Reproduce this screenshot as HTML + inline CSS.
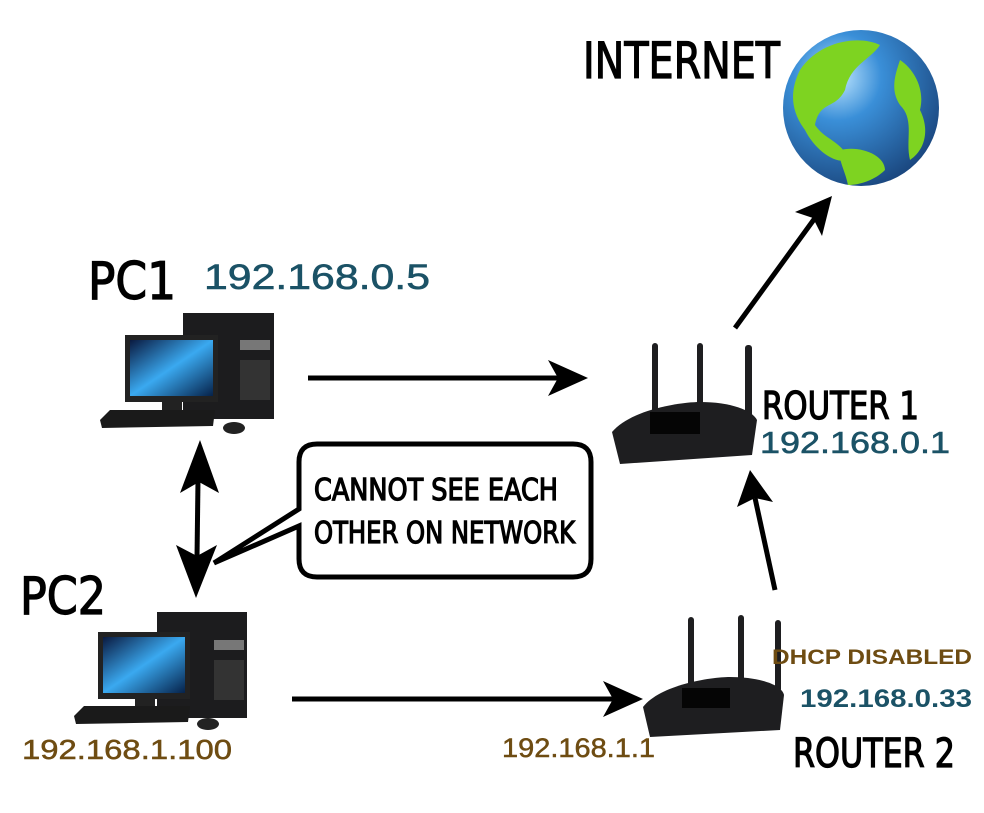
<!DOCTYPE html>
<html><head><meta charset="utf-8"><style>
html,body{margin:0;padding:0;background:#fff}
svg{display:block}
.h{font-family:"DejaVu Sans Condensed","Liberation Sans Narrow","Liberation Sans",sans-serif;font-weight:normal;stroke:#000;stroke-width:1.2}
.ip{font-family:"Liberation Sans",sans-serif}
</style></head><body>
<svg width="984" height="813" viewBox="0 0 984 813" xmlns="http://www.w3.org/2000/svg">
<defs>
<radialGradient id="gl" cx="0.35" cy="0.3" r="0.8">
<stop offset="0" stop-color="#bfe6ff"/><stop offset="0.35" stop-color="#3a8fd8"/><stop offset="1" stop-color="#173f75"/></radialGradient>
<linearGradient id="scr" x1="0" y1="0" x2="1" y2="1"><stop offset="0" stop-color="#0a1a40"/><stop offset="0.5" stop-color="#3aa9f0"/><stop offset="1" stop-color="#06224a"/></linearGradient>
</defs>

<!-- Globe -->
<circle cx="861" cy="108" r="78" fill="url(#gl)"/>
<path d="M800 70 C820 40 860 35 880 45 C870 60 850 65 845 90 C835 110 820 100 815 125 C825 140 840 140 850 160 C835 165 815 150 805 130 C790 110 790 90 800 70Z" fill="#7ed321"/>
<path d="M900 60 C915 70 925 90 920 110 C930 130 925 150 910 160 C905 140 915 120 900 105 C890 90 895 75 900 60Z" fill="#7ed321"/>
<path d="M840 150 C860 145 885 155 885 170 C875 180 860 185 848 185 C845 170 838 160 840 150Z" fill="#7ed321"/>

<text x="583" y="78" class="h" font-size="50" textLength="197" lengthAdjust="spacingAndGlyphs">INTERNET</text>

<!-- PC1 -->
<g>
<rect x="183" y="313" width="91" height="106" fill="#1c1c1e"/>
<rect x="240" y="340" width="30" height="10" fill="#777"/>
<rect x="240" y="360" width="30" height="40" fill="#333"/>
<rect x="125" y="335" width="93" height="67" fill="#222"/>
<rect x="130" y="340" width="83" height="56" fill="url(#scr)"/>
<rect x="162" y="402" width="20" height="10" fill="#222"/>
<polygon points="100,420 110,410 215,410 213,426 102,428" fill="#1a1a1a"/>
<ellipse cx="234" cy="428" rx="11" ry="6" fill="#222"/>
</g>
<!-- PC2 -->
<g>
<rect x="157" y="612" width="90" height="106" fill="#1c1c1e"/>
<rect x="214" y="640" width="30" height="10" fill="#777"/>
<rect x="214" y="660" width="30" height="40" fill="#333"/>
<rect x="98" y="632" width="92" height="67" fill="#222"/>
<rect x="103" y="637" width="82" height="56" fill="url(#scr)"/>
<rect x="135" y="699" width="20" height="10" fill="#222"/>
<polygon points="74,716 84,706 190,706 188,722 76,724" fill="#1a1a1a"/>
<ellipse cx="208" cy="724" rx="11" ry="6" fill="#222"/>
</g>

<!-- Router1 -->
<g fill="#1e1e20">
<rect x="652" y="343" width="6" height="75" rx="3"/>
<rect x="697" y="343" width="6" height="70" rx="3"/>
<rect x="745" y="345" width="7" height="75" rx="3"/>
<path d="M612 432 C630 410 680 402 700 402 C730 402 752 410 757 420 L752 455 L620 464 Z"/>
<rect x="650" y="412" width="50" height="22" fill="#050505"/>
</g>
<!-- Router2 -->
<g fill="#1e1e20">
<rect x="688" y="617" width="6" height="75" rx="3"/>
<rect x="738" y="615" width="6" height="70" rx="3"/>
<rect x="775" y="620" width="6" height="72" rx="3"/>
<path d="M643 707 C660 685 710 677 730 677 C760 677 782 685 784 695 L780 730 L650 737 Z"/>
<rect x="682" y="688" width="48" height="20" fill="#050505"/>
</g>

<!-- arrows -->
<g stroke="#000" stroke-width="5" fill="#000">
<line x1="308" y1="378" x2="560" y2="378"/>
<polygon points="588,378 548,360 558,378 548,396" stroke="none"/>
<line x1="292" y1="699" x2="615" y2="699"/>
<polygon points="643,699 603,681 613,699 603,717" stroke="none"/>
<line x1="735" y1="328" x2="815" y2="218"/>
<polygon points="832,196 795,212 813,218 822,236" stroke="none"/>
<line x1="775" y1="590" x2="755" y2="498"/>
<polygon points="750,470 737,507 755,498 773,502" stroke="none"/>
<line x1="198" y1="480" x2="197" y2="558"/>
<polygon points="200,440 180,493 199,482 219,493" stroke="none"/>
<polygon points="196,598 176,545 197,556 217,545" stroke="none"/>
</g>

<!-- bubble -->
<path d="M317 444 H573 Q591 444 591 462 V559 Q591 577 573 577 H317 Q299 577 299 559 V526 L214 563 L299 509 V462 Q299 444 317 444 Z" fill="#fff" stroke="#000" stroke-width="5" stroke-linejoin="miter"/>
<text x="314" y="500" class="h" font-size="30" textLength="244" lengthAdjust="spacingAndGlyphs">CANNOT SEE EACH</text>
<text x="314" y="543" class="h" font-size="30" textLength="261" lengthAdjust="spacingAndGlyphs">OTHER ON NETWORK</text>

<!-- labels -->
<text x="88" y="299" class="h" font-size="52" textLength="88" lengthAdjust="spacingAndGlyphs">PC1</text>
<text x="204" y="289" class="ip" font-size="35" fill="#1b5266" stroke="#1b5266" stroke-width="0.6" textLength="226" lengthAdjust="spacingAndGlyphs">192.168.0.5</text>
<text x="762" y="419" class="h" font-size="38" textLength="157" lengthAdjust="spacingAndGlyphs">ROUTER 1</text>
<text x="760" y="453" class="ip" font-size="31" fill="#1b5266" stroke="#1b5266" stroke-width="0.6" textLength="190" lengthAdjust="spacingAndGlyphs">192.168.0.1</text>
<text x="20" y="614" class="h" font-size="52" textLength="86" lengthAdjust="spacingAndGlyphs">PC2</text>
<text x="22" y="759" class="ip" font-size="28" fill="#6e4c12" stroke="#6e4c12" stroke-width="0.5" textLength="210" lengthAdjust="spacingAndGlyphs">192.168.1.100</text>
<text x="502" y="757" class="ip" font-size="27" fill="#6e4c12" stroke="#6e4c12" stroke-width="0.5" textLength="153" lengthAdjust="spacingAndGlyphs">192.168.1.1</text>
<text x="772" y="664" class="ip" font-size="21" font-weight="bold" fill="#6e4c12" textLength="200" lengthAdjust="spacingAndGlyphs">DHCP DISABLED</text>
<text x="800" y="707" class="ip" font-size="25" font-weight="bold" fill="#1b5266" textLength="172" lengthAdjust="spacingAndGlyphs">192.168.0.33</text>
<text x="793" y="767" class="h" font-size="40" textLength="162" lengthAdjust="spacingAndGlyphs">ROUTER 2</text>
</svg>
</body></html>
